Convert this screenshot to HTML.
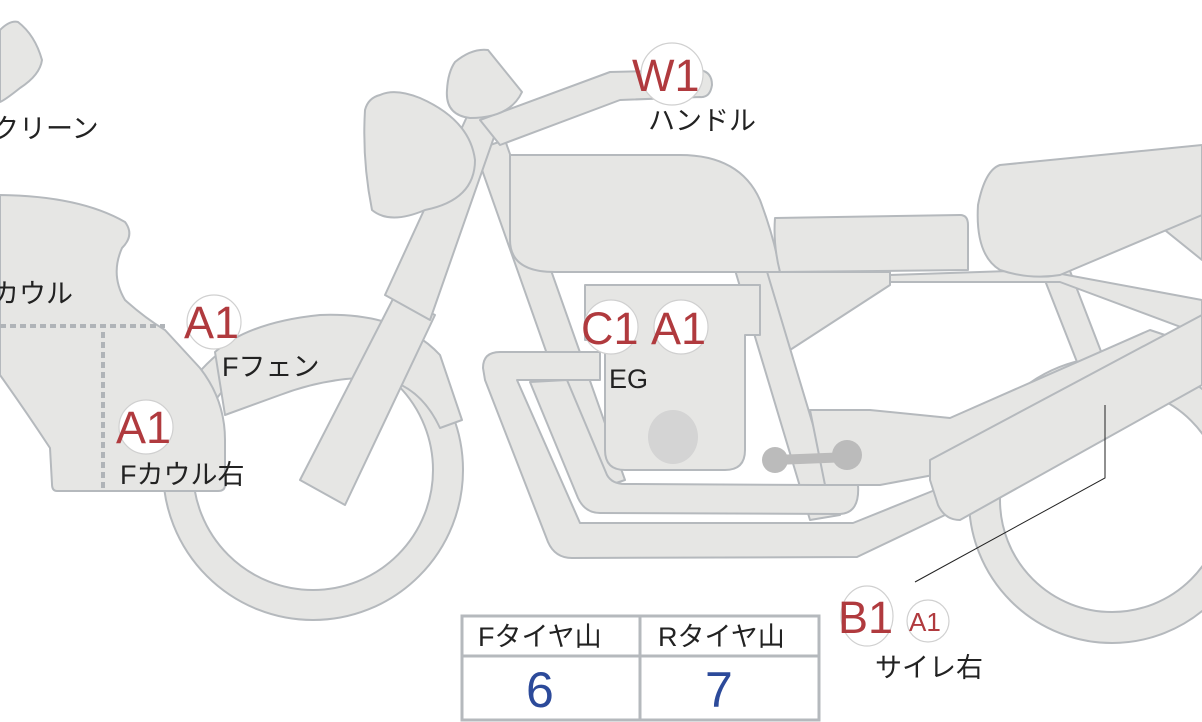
<!DOCTYPE html>
<html><head><meta charset="utf-8"><style>
html,body{margin:0;padding:0;background:#fff;width:1202px;height:722px;overflow:hidden}
svg{display:block}
text{font-family:"Liberation Sans","Noto Sans CJK JP",sans-serif}
.s{fill:#e6e6e4;stroke:#b5b9bd;stroke-width:2;stroke-linejoin:round}
.r{fill:#b03a3e;font-size:45px}
.k{fill:#222;font-size:27px}
.c{fill:#fff;stroke:#d0d0d0;stroke-width:1.2}
</style></head><body>
<svg width="1202" height="722" viewBox="0 0 1202 722">
<circle class="s" cx="1112" cy="500" r="143"/>
<circle cx="1112" cy="500" r="112" fill="#fff" stroke="#b5b9bd" stroke-width="2"/>
<circle class="s" cx="313" cy="470" r="150"/>
<circle cx="313" cy="470" r="120" fill="#fff" stroke="#b5b9bd" stroke-width="2"/>
<path class="s" d="M1035 255 L1060 245 L1112 380 L1088 390 Z"/>
<path class="s" d="M1140 210 L1202 180 L1202 260 Z"/>
<path class="s" d="M890 275 L1040 270 L1202 300 L1202 335 L1060 282 L890 282 Z"/>
<path class="s" d="M765 272 L890 272 L890 285 L790 350 Q760 350 765 272 Z"/>
<path class="s" d="M475 150 L505 140 L625 480 L595 490 Z"/>
<path class="s" d="M735 270 L765 265 L840 515 L810 520 Z"/>
<path class="s" d="M810 410 L870 410 L950 418 L1150 330 L1180 340 L1175 395 L1100 430 L960 470 L880 485 L825 485 Z"/>
<path class="s" d="M530 382 L567 380 L607 475 Q612 484 625 484 L815 485 L858 485 Q860 513 840 514 L600 513 Q585 513 578 498 Z"/>
<path class="s" d="M483 368 Q483 352 500 352 L600 352 L600 380 L517 380 L580 523 L853 523 L935 490 L945 515 L857 557 L572 558 Q555 558 548 542 L485 380 Z"/>
<path class="s" d="M585 285 L760 285 L760 335 L745 335 L745 450 Q745 470 725 470 L625 470 Q605 470 605 450 L605 340 L585 340 Z"/>
<ellipse cx="673" cy="437" rx="25" ry="27" fill="#d4d4d4"/>
<path d="M775 460 L850 457" stroke="#bbb" stroke-width="10"/>
<circle cx="775" cy="460" r="13" fill="#bbb"/><circle cx="847" cy="455" r="15" fill="#bbb"/>
<path class="s" d="M930 460 L1202 315 L1202 385 L960 520 Q945 520 938 505 L930 480 Z"/>
<path class="s" d="M510 155 L680 155 Q740 155 760 200 Q775 240 780 272 L555 272 Q510 272 510 240 Z"/>
<path class="s" d="M775 218 L960 215 Q968 215 968 225 L968 270 L780 272 Q773 245 775 218 Z"/>
<path class="s" d="M1000 165 L1202 145 L1202 215 L1060 275 Q1030 280 1000 270 Q975 255 978 205 Q985 170 1000 165 Z"/>
<path class="s" d="M215 352 Q250 322 320 315 Q400 312 440 355 L462 420 L440 428 Q420 385 380 378 Q330 376 280 395 L225 415 Z"/>
<path class="s" d="M300 480 L395 295 L435 315 L345 505 Z"/>
<path class="s" d="M385 295 L470 110 L500 120 L430 320 Z"/>
<path class="s" d="M480 120 L610 72 L700 70 Q712 72 712 85 Q710 98 700 97 L620 100 L500 145 Z"/>
<path class="s" d="M455 62 Q472 48 488 50 L522 92 Q510 118 470 118 Q445 115 447 90 Q448 72 455 62 Z"/>
<path class="s" d="M380 95 Q395 88 420 98 Q470 120 475 160 Q475 200 425 210 Q390 225 372 210 Q362 160 365 110 Q368 98 380 95 Z"/>
<path class="s" d="M0 195 Q80 196 125 222 Q135 235 122 248 Q110 275 125 300 Q145 318 165 330 L200 368 Q225 400 225 440 L225 485 Q225 491 218 491 L57 491 Q52 491 52 484 L50 448 Q25 410 0 375 Z"/>
<path d="M0 326 L165 326 M103 332 L103 488" stroke="#b0b4b8" stroke-width="4" stroke-dasharray="6 4" fill="none"/>
<path class="s" d="M0 30 Q10 20 18 22 Q35 35 42 60 Q40 75 20 88 Q5 100 0 102 Z"/>
<path d="M1105 405 L1105 478 L915 582" stroke="#222" stroke-width="1" fill="none"/>
<circle class="c" cx="672" cy="74" r="31"/><text class="r" x="632" y="91">W1</text>
<text class="k" x="648" y="130">ハンドル</text>
<text class="k" x="-8" y="138">クリーン</text>
<text class="k" x="-8" y="303">カウル</text>
<circle class="c" cx="214" cy="322" r="27"/><text class="r" x="184" y="338">A1</text>
<text class="k" x="222" y="376">Fフェン</text>
<circle class="c" cx="146" cy="427" r="27"/><text class="r" x="116" y="443">A1</text>
<text class="k" x="120" y="484">Fカウル右</text>
<circle class="c" cx="611" cy="327" r="27"/><text class="r" x="581" y="344">C1</text>
<circle class="c" cx="681" cy="327" r="27"/><text class="r" x="651" y="344">A1</text>
<text class="k" x="609" y="388">EG</text>
<ellipse class="c" cx="867" cy="616" rx="26" ry="30"/><text class="r" x="838" y="633">B1</text>
<circle class="c" cx="928" cy="621" r="21"/><text class="r" x="909" y="631" style="font-size:26px">A1</text>
<text class="k" x="875" y="677">サイレ右</text>
<rect x="462" y="616" width="357" height="104" fill="#fff" stroke="#b5b9bd" stroke-width="3"/>
<path d="M462 656 L819 656 M640 616 L640 720" stroke="#b5b9bd" stroke-width="3"/>
<text class="k" x="478" y="646">Fタイヤ山</text>
<text class="k" x="658" y="646">Rタイヤ山</text>
<text x="526" y="707" style="fill:#2c4a9a;font-size:50px">6</text>
<text x="705" y="707" style="fill:#2c4a9a;font-size:50px">7</text>
</svg>
</body></html>
